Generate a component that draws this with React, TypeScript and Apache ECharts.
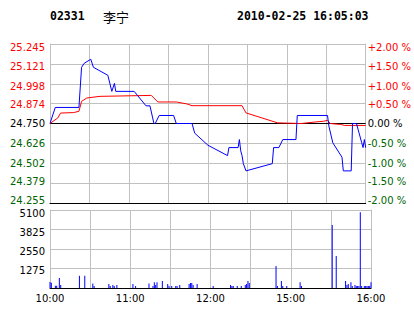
import React, { useEffect, useRef } from 'react';
import * as echarts from 'echarts';

const BASE_PRICE = 24.75;
const stockCode = '02331';
const stockName = '李宁';
const timestamp = '2010-02-25 16:05:03';

// minute index (0 = 10:00, 240 = 16:00) and price
const priceTimes = [0, 4, 22, 24, 26, 31, 33, 44, 47, 49, 50, 64, 73, 76, 79, 80, 83, 94, 96, 108, 110, 120, 135, 136, 143, 144, 145, 146, 147, 149, 169, 170, 174, 177, 187, 188, 211, 212, 215, 222, 223, 229, 230, 233, 235, 237, 238, 239, 240];
const priceValues = [24.75, 24.85, 24.85, 25.1, 25.125, 25.15, 25.1, 25.05, 24.95, 25.0, 24.95, 24.95, 24.86, 24.86, 24.75, 24.75, 24.8, 24.8, 24.75, 24.75, 24.69, 24.615, 24.55, 24.6, 24.6, 24.65, 24.58, 24.55, 24.5, 24.455, 24.5, 24.6, 24.6, 24.65, 24.65, 24.8, 24.8, 24.735, 24.63, 24.54, 24.455, 24.455, 24.75, 24.75, 24.69, 24.63, 24.6, 24.65, 24.6];

const avgTimes = [0, 6, 8, 18, 22, 24, 28, 38, 77, 82, 96, 104, 108, 146, 149, 173, 191, 200, 208, 211, 213, 221, 224, 240];
const avgValues = [24.75, 24.785, 24.815, 24.818, 24.826, 24.888, 24.909, 24.919, 24.925, 24.884, 24.884, 24.872, 24.861, 24.861, 24.816, 24.754, 24.75, 24.758, 24.764, 24.77, 24.75, 24.744, 24.738, 24.738];

const volTimes = [0, 1, 4, 5, 7, 8, 22, 26, 32, 33, 44, 45, 47, 48, 50, 62, 64, 74, 77, 78, 79, 80, 84, 88, 89, 91, 94, 95, 97, 104, 105, 106, 107, 110, 122, 135, 136, 137, 140, 143, 146, 147, 148, 149, 169, 170, 173, 174, 177, 187, 188, 211, 214, 221, 222, 223, 225, 226, 228, 229, 230, 231, 232, 233, 235, 236, 237, 238, 239, 240];
const volValues = [400, 340, 140, 140, 660, 200, 800, 800, 300, 130, 260, 130, 200, 130, 200, 260, 130, 300, 130, 370, 200, 370, 460, 260, 130, 130, 130, 130, 200, 260, 320, 320, 200, 260, 130, 200, 130, 130, 130, 130, 200, 260, 460, 320, 1440, 130, 460, 130, 130, 370, 130, 4120, 2090, 460, 200, 260, 370, 130, 200, 130, 130, 130, 4950, 130, 130, 130, 130, 130, 130, 370];

const priceTickLabels = ['24.255', '24.379', '24.502', '24.626', '24.750', '24.874', '24.998', '25.121', '25.245'];
const pctTickLabels = ['-2.00 %', '-1.50 %', '-1.00 %', '-0.50 %', '0.00 %', '+0.50 %', '+1.00 %', '+1.50 %', '+2.00 %'];
const volTickLabels = ['', '1275', '2550', '3825', '5100'];
const timeTickValues = [0, 60, 120, 180, 240];
const timeTickLabels = ['10:00', '11:00', '12:00', '15:00', '16:00'];

const RED = '#ff0000';
const GREEN = '#006400';
const GRID = '#c0c0c0';
const FONT = 'DejaVu Sans';

// vertical nudges of tick labels (px, positive = down), bottom to top
const priceLabelShift = [-3, -2, 0.5, 0.5, 0, 1, 2.5, 2.5, 3];
const volLabelShift = [0, 1.5, 2, 2.5, 3];

const pct = (p: number) => ((p - BASE_PRICE) / BASE_PRICE) * 100;
const tickIdx = (v: number) => Math.round((v + 2) / 0.5);
const colorAt = (i: number) => (i > 4 ? RED : i < 4 ? GREEN : '#000000');

const shiftPad = (s: number) => (s >= 0 ? [2 * s, 0, 0, 0] : [0, 0, -2 * s, 0]);

const priceRich: Record<string, any> = {};
priceLabelShift.forEach((s, i) => {
  priceRich['p' + i] = { color: colorAt(i), fontFamily: FONT, fontSize: 10, padding: shiftPad(s) };
});
const volRich: Record<string, any> = {};
volLabelShift.forEach((s, i) => {
  volRich['v' + i] = { color: '#000000', fontFamily: FONT, fontSize: 10, padding: shiftPad(s) };
});

export default function App() {
  const ref = useRef<HTMLDivElement>(null);
  useEffect(() => {
    if (!ref.current) return;
    const chart = echarts.init(ref.current, undefined, { renderer: 'svg' });
    chart.setOption({
      animation: false,
      backgroundColor: '#ffffff',
      graphic: [
        { type: 'text', x: 50, y: 16, style: { text: stockCode, font: 'bold 11.5px "DejaVu Sans Mono"', fill: '#000', verticalAlign: 'middle' } },
        { type: 'text', x: 103, y: 16, style: { text: stockName, font: '13px "Noto Sans CJK SC"', fill: '#000', verticalAlign: 'middle' } },
        { type: 'text', x: 237, y: 16, style: { text: timestamp, font: 'bold 11.5px "DejaVu Sans Mono"', fill: '#000', verticalAlign: 'middle' } },
      ],
      grid: [
        { left: 50, right: 43, top: 44, height: 159 },
        { left: 50, right: 43, top: 210, height: 78 },
      ],
      xAxis: [
        {
          type: 'value', gridIndex: 0, min: 0, max: 240, interval: 30,
          axisTick: { show: false },
          axisLabel: { show: false },
          axisLine: { show: true, onZero: false, lineStyle: { color: '#000', width: 1 } },
          splitLine: { show: true, lineStyle: { color: GRID, width: 1 } },
        },
        {
          type: 'value', gridIndex: 1, min: 0, max: 240, interval: 30,
          axisTick: { show: false },
          axisLabel: {
            show: true, margin: 5, color: '#000', fontFamily: FONT, fontSize: 10,
            formatter: (v: number) => {
              const i = timeTickValues.indexOf(Math.round(v));
              return i >= 0 ? timeTickLabels[i] : '';
            },
          },
          axisLine: { show: true, onZero: false, lineStyle: { color: '#000', width: 1 } },
          splitLine: { show: true, lineStyle: { color: GRID, width: 1 } },
        },
      ],
      yAxis: [
        {
          type: 'value', gridIndex: 0, min: -2, max: 2, interval: 0.5, position: 'left',
          axisTick: { show: false },
          axisLine: { show: true, onZero: false, lineStyle: { color: GRID } },
          axisLabel: {
            margin: 5, fontFamily: FONT, fontSize: 10,
            formatter: (v: number) => {
              const i = tickIdx(v);
              return priceTickLabels[i] ? `{p${i}|${priceTickLabels[i]}}` : '';
            },
            rich: priceRich,
          },
          splitLine: { show: true, lineStyle: { color: GRID, width: 1 } },
        },
        {
          type: 'value', gridIndex: 0, min: -2, max: 2, interval: 0.5, position: 'right',
          axisTick: { show: false },
          axisLine: { show: true, onZero: false, lineStyle: { color: GRID } },
          axisLabel: {
            margin: 2, fontFamily: FONT, fontSize: 10,
            formatter: (v: number) => {
              const i = tickIdx(v);
              return pctTickLabels[i] ? `{p${i}|${pctTickLabels[i]}}` : '';
            },
            rich: priceRich,
          },
          splitLine: { show: false },
        },
        {
          type: 'value', gridIndex: 1, min: 0, max: 5100, interval: 1275, position: 'left',
          axisTick: { show: false },
          axisLine: { show: true, onZero: false, lineStyle: { color: GRID } },
          axisLabel: {
            margin: 5, fontFamily: FONT, fontSize: 10, color: '#000',
            formatter: (v: number) => {
              const i = Math.round(v / 1275);
              return volTickLabels[i] ? `{v${i}|${volTickLabels[i]}}` : '';
            },
            rich: volRich,
          },
          splitLine: { show: true, lineStyle: { color: GRID, width: 1 } },
        },
        {
          type: 'value', gridIndex: 1, min: 0, max: 5100, interval: 1275, position: 'right',
          axisTick: { show: false },
          axisLine: { show: true, onZero: false, lineStyle: { color: GRID } },
          axisLabel: { show: false },
          splitLine: { show: false },
        },
      ],
      series: [
        {
          name: 'base', type: 'line', xAxisIndex: 0, yAxisIndex: 0,
          data: [[0, pct(BASE_PRICE)], [240, pct(BASE_PRICE)]],
          symbol: 'none', silent: true,
          lineStyle: { color: '#000', width: 1 }, z: 1,
        },
        {
          name: 'avg', type: 'line', xAxisIndex: 0, yAxisIndex: 0,
          data: avgTimes.map((t, i) => [t, pct(avgValues[i])]),
          symbol: 'none', silent: true,
          lineStyle: { color: RED, width: 1 }, z: 2,
        },
        {
          name: 'price', type: 'line', xAxisIndex: 0, yAxisIndex: 0,
          data: priceTimes.map((t, i) => [t, pct(priceValues[i])]),
          symbol: 'none', silent: true,
          lineStyle: { color: '#0000ff', width: 1 }, z: 3,
        },
        {
          name: 'volume', type: 'bar', xAxisIndex: 1, yAxisIndex: 2,
          data: volTimes.map((t, i) => [t, volValues[i]]),
          barWidth: 1, silent: true,
          itemStyle: { color: '#0000ff' },
        },
      ],
    });
    return () => chart.dispose();
  }, []);
  return (
    <div
      ref={ref}
      style={{ position: 'fixed', left: 0, top: 0, width: 414, height: 314, background: '#fff' }}
    />
  );
}
